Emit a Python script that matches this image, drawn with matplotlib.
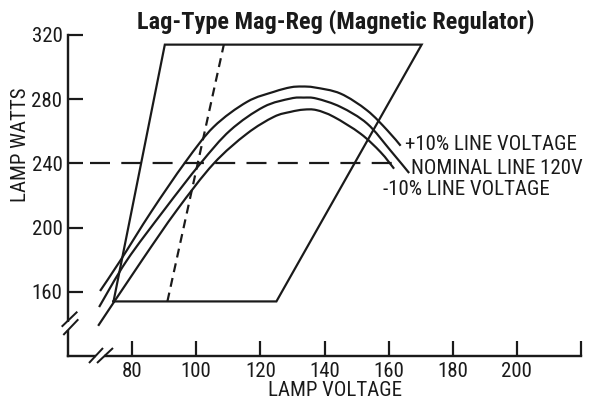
import matplotlib
matplotlib.use("Agg")
import matplotlib.pyplot as plt
from matplotlib.lines import Line2D
from matplotlib.path import Path
from matplotlib.patches import PathPatch

plt.rcParams['font.family'] = ['Roboto Condensed', 'Liberation Sans Narrow', 'DejaVu Sans']
plt.rcParams['lines.scale_dashes'] = False

# ---- data -------------------------------------------------------------
title = "Lag-Type Mag-Reg (Magnetic Regulator)"
x_label = "LAMP VOLTAGE"
y_label = "LAMP WATTS"

x_ticks = [80, 100, 120, 140, 160, 180, 200, 220]
x_tick_labels = ["80", "100", "120", "140", "160", "180", "200", ""]
y_ticks = [160, 200, 240, 280, 320]
y_tick_labels = ["160", "200", "240", "280", "320"]

# lamp watts vs lamp voltage for three line voltages
plus10_v = [70, 76.3, 86, 96.6, 105.4, 115.8, 124.2, 129.4, 133, 137, 145, 153.3, 159.6, 163.75]
plus10_w = [160.5, 179.4, 210, 240.8, 262.7, 278.3, 284.6, 287.4, 287.9, 287.3, 283.5, 273, 260.6, 251]

nominal_v = [69.7, 78.3, 90, 101.25, 110.6, 121, 129.4, 133.5, 137.5, 145, 153.3, 160.6, 166.4]
nominal_w = [150.5, 179.4, 211, 239.8, 260.6, 275.2, 280.4, 281, 280.4, 275.2, 264.8, 248, 234]

minus10_v = [69.4, 83, 94, 105.4, 115.8, 124.2, 129.4, 133.5, 137.5, 142.9, 151.25, 157.5, 161.7]
minus10_w = [138.8, 179.4, 211, 239.8, 258.5, 269, 272.1, 273.5, 273.2, 269, 258.5, 247, 236.7]

curve_labels = ["+10% LINE VOLTAGE", "NOMINAL LINE 120V", "-10% LINE VOLTAGE"]

# operating window (trapezoid) and reference lines
window_v = [74.2, 125, 170.3, 90.2, 74.2]
window_w = [154, 154, 314, 314, 154]
limit_v = [91, 108.6]
limit_w = [154, 314]
rated_v = [66.9, 161.6]
rated_w = [240, 240]

# ---- figure -----------------------------------------------------------
PX = 0.72  # points per pixel at 100 dpi
W, H = 597, 403
fig = plt.figure(figsize=(W / 100, H / 100), dpi=100)
ax_l, ax_r, ax_t, ax_b = 68, 581, 35, 356
ax = fig.add_axes([ax_l / W, 1 - ax_b / H, (ax_r - ax_l) / W, (ax_b - ax_t) / H])
ax.set_xlim(60, 220)
ax.set_ylim(120, 320)

ink = "#1a1a1a"
lw = 2.2 * PX

for s in ("top", "right"):
    ax.spines[s].set_visible(False)
for s in ("left", "bottom"):
    ax.spines[s].set_linewidth(2.4 * PX)
    ax.spines[s].set_color(ink)

ax.set_xticks(x_ticks)
ax.set_xticklabels(x_tick_labels)
ax.set_yticks(y_ticks)
ax.set_yticklabels(y_tick_labels)
ax.tick_params(direction="in", length=15 * PX, width=2.2 * PX, color=ink,
               labelsize=15, labelcolor=ink)
ax.tick_params(axis="x", pad=4)
ax.tick_params(axis="y", pad=4)

ax.plot(window_v, window_w, color=ink, lw=lw, solid_joinstyle="miter")
ax.plot(limit_v, limit_w, color=ink, lw=lw, dashes=(9 * PX, 6 * PX))
ax.plot(rated_v, rated_w, color=ink, lw=lw, dashes=(20 * PX, 11.3 * PX))


def smooth_path(xs, ys):
    """Cubic Bezier path passing through every point (Catmull-Rom tangents)."""
    pts = list(zip(xs, ys))
    verts = [pts[0]]
    codes = [Path.MOVETO]
    n = len(pts)
    for i in range(n - 1):
        p0 = pts[i - 1] if i > 0 else pts[i]
        p1 = pts[i]
        p2 = pts[i + 1]
        p3 = pts[i + 2] if i + 2 < n else pts[i + 1]
        c1 = (p1[0] + (p2[0] - p0[0]) / 6, p1[1] + (p2[1] - p0[1]) / 6)
        c2 = (p2[0] - (p3[0] - p1[0]) / 6, p2[1] - (p3[1] - p1[1]) / 6)
        verts += [c1, c2, p2]
        codes += [Path.CURVE4] * 3
    return Path(verts, codes)


for v, w in ((plus10_v, plus10_w), (nominal_v, nominal_w), (minus10_v, minus10_w)):
    ax.add_patch(PathPatch(smooth_path(v, w), fill=False, edgecolor=ink, lw=lw,
                           capstyle="butt", joinstyle="round"))

ax.text(165, 252, curve_labels[0], fontsize=15, ha="left", va="center", color=ink)
ax.text(166.9, 237, curve_labels[1], fontsize=15, ha="left", va="center", color=ink)
ax.text(158.4, 223.5, curve_labels[2], fontsize=15, ha="left", va="center", color=ink)

# axis break symbols
def fx(px):
    return (px - ax_l) / (ax_r - ax_l)

def fy(py):
    return (ax_b - py) / (ax_b - ax_t)

def seg(x0, y0, x1, y1, color=ink, width=2.0 * PX, z=6):
    ax.add_line(Line2D([fx(x0), fx(x1)], [fy(y0), fy(y1)], transform=ax.transAxes,
                       color=color, lw=width, clip_on=False, zorder=z,
                       solid_capstyle="butt"))

seg(ax_l, 321.5, ax_l, 329.5, color="white", width=4 * PX, z=5)
seg(61.7, 326.7, 77.3, 311.7)
seg(63.3, 335.0, 78.3, 319.3)
seg(96.3, ax_b, 103.8, ax_b, color="white", width=4 * PX, z=5)
seg(89, 363, 103, 348)
seg(97, 363, 113, 348)

fig.text(335.5 / W, 1 - 22 / H, title, fontsize=17.5, fontweight="black",
         ha="center", va="center", color=ink)
fig.text(335 / W, 1 - 390 / H, x_label, fontsize=15, ha="center", va="center", color=ink)
fig.text(21 / W, 1 - 145 / H, y_label, fontsize=15, rotation=90,
         ha="center", va="center", color=ink)

fig.savefig("out.png", dpi=100)
